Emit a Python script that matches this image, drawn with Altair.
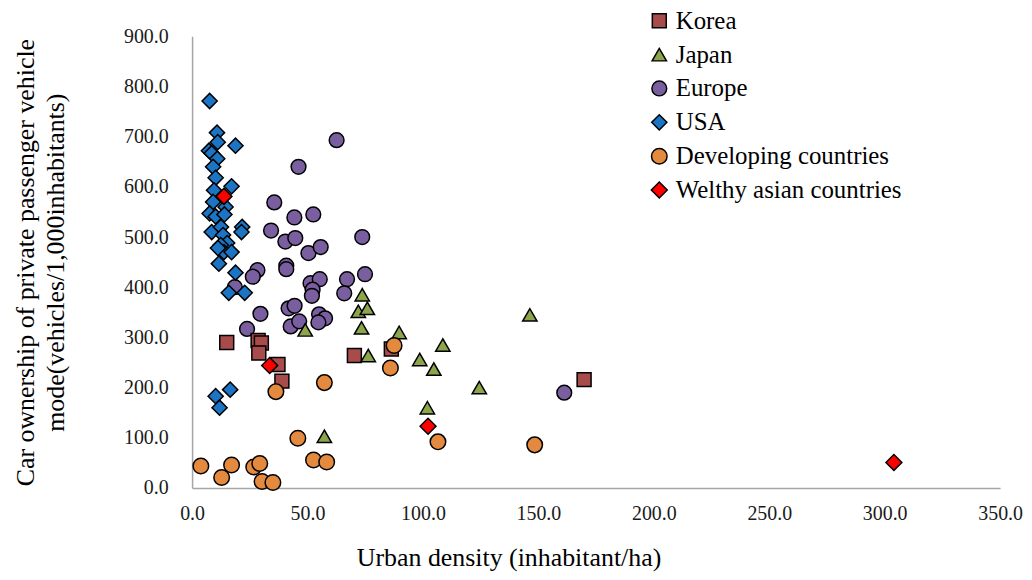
import altair as alt
import pandas as pd

groups = ["Korea", "Japan", "Europe", "USA", "Developing countries", "Welthy asian countries"]

korea_x = [15.0, 28.6, 30.0, 28.9, 37.2, 38.9, 70.3, 86.3, 169.8]
korea_y = [290, 294, 289, 269, 246, 213, 264, 277, 216]

japan_x = [49.0, 73.7, 72.0, 75.9, 73.4, 76.3, 89.7, 108.6, 98.6, 104.7, 101.9, 124.4, 146.3, 57.3]
japan_y = [315, 385, 352, 358, 319, 264, 310, 285, 256, 237, 160, 200, 345, 103]

europe_x = [62.6, 46.1, 35.6, 44.3, 52.5, 34.2, 40.4, 44.7, 50.4, 55.7, 73.7, 28.3, 26.3,
            40.8, 40.8, 51.3, 55.3, 52.2, 51.9, 67.1, 74.9, 65.9, 18.5, 29.6, 41.8, 44.4,
            55.0, 57.6, 54.7, 42.7, 46.4, 23.8, 161.2]
europe_y = [693, 640, 569, 539, 545, 513, 491, 498, 468, 480, 500, 434, 421,
            443, 436, 408, 416, 395, 383, 416, 426, 388, 400, 347, 358, 363,
            346, 338, 330, 322, 332, 317, 190]

usa_x = [7.6, 10.8, 11.1, 18.8, 7.3, 8.5, 10.9, 9.1, 10.2, 17.1, 9.5, 9.1, 7.6, 10.2,
         14.5, 21.7, 21.4, 8.5, 12.5, 13.4, 15.2, 12.4, 13.8, 17.1, 11.6, 18.8, 15.9,
         22.8, 16.5, 10.2, 11.9, 11.2, 14.0]
usa_y = [771, 708, 689, 682, 672, 667, 656, 640, 618, 601, 593, 570, 547, 541,
         560, 520, 510, 510, 520, 504, 488, 484, 470, 470, 447, 429, 389,
         389, 196, 183, 160, 478, 545]

dev_x = [57.3, 36.3, 45.8, 3.8, 12.8, 17.1, 26.7, 29.3, 30.3, 35.0, 52.6, 58.3, 87.5, 85.9, 106.5, 148.4]
dev_y = [210, 192, 99, 44, 21, 46, 42, 49, 13, 11, 56, 52, 284, 239, 92, 86]

wealthy_x = [13.8, 33.6, 102.2, 304.0]
wealthy_y = [581, 244, 123, 51]

colors = ["#A84B4B", "#8CA54D", "#7A5FA0", "#1B75C4", "#E48A3E", "#FF0000"]
shapes = ["square", "triangle-up", "circle", "diamond", "circle", "diamond"]
sizes = [196, 256, 169, 130, 256, 470]

rows = []
order = [("Europe", europe_x, europe_y), ("USA", usa_x, usa_y), ("Korea", korea_x, korea_y),
         ("Japan", japan_x, japan_y), ("Developing countries", dev_x, dev_y),
         ("Welthy asian countries", wealthy_x, wealthy_y)]
for g, xs, ys in order:
    for x, y in zip(xs, ys):
        rows.append({"group": g, "x": x, "y": y})
df = pd.DataFrame(rows)

FONT = "Liberation Serif"

legend = alt.Legend(orient="none", legendX=457, legendY=-28, title=None,
                    labelFont=FONT, labelFontSize=25, labelColor="#000000", labelLimit=0,
                    symbolStrokeColor="#000000", symbolStrokeWidth=1.5,
                    rowPadding=8, labelOffset=4)

chart = alt.Chart(df).mark_point(filled=True, opacity=1, stroke="#000000", strokeWidth=1.5).encode(
    x=alt.X("x:Q", scale=alt.Scale(domain=[0, 350], nice=False),
            axis=alt.Axis(values=[0, 50, 100, 150, 200, 250, 300, 350], format=".1f",
                          labelFlush=False,
                          title="Urban density (inhabitant/ha)", titleX=318, titleY=70,
                          titleFontSize=26,
                          titleAnchor="middle", titleBaseline="middle")),
    y=alt.Y("y:Q", scale=alt.Scale(domain=[0, 900], nice=False),
            axis=alt.Axis(values=list(range(0, 901, 100)), format=".1f",
                          labelFlush=False,
                          title=["Car ownership of private passenger vehicle",
                                 "mode(vehicles/1,000inhabitants)"],
                          titlePadding=55, titleLineHeight=30)),
    color=alt.Color("group:N", scale=alt.Scale(domain=groups, range=colors), legend=legend),
    shape=alt.Shape("group:N", scale=alt.Scale(domain=groups, range=shapes), legend=legend),
    size=alt.Size("group:N", scale=alt.Scale(domain=groups, range=sizes), legend=legend),
).properties(
    width=812, height=454,
    autosize=alt.AutoSizeParams(type="none"),
    padding={"left": 185, "top": 27, "right": 24, "bottom": 85},
).configure_view(stroke=None).configure_axis(
    grid=False, ticks=False, domainColor="#A6A6A6", domainWidth=1.5,
    labelFont=FONT, labelFontSize=20, labelColor="#1a1a1a",
    titleFont=FONT, titleFontSize=26, titleColor="#000000", titleFontWeight="normal",
).configure_axisX(labelPadding=16).configure_axisY(labelPadding=24)

chart.save("out.html", embed_options={"renderer": "svg", "actions": False})
